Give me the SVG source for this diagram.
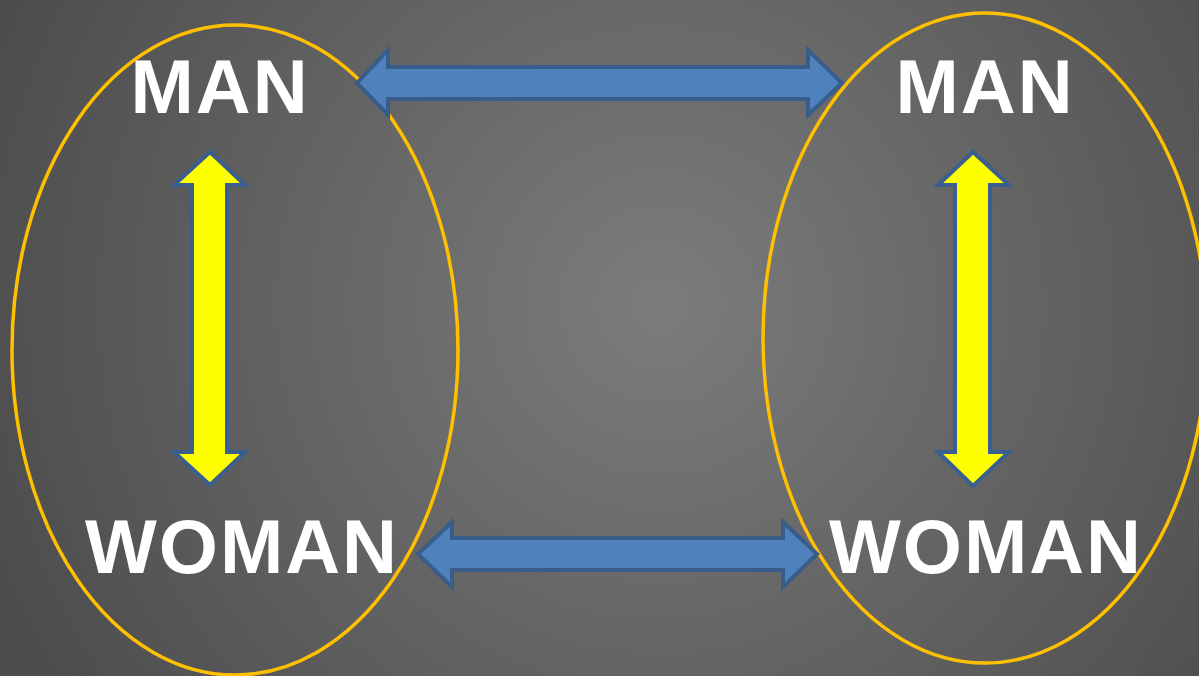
<svg xmlns="http://www.w3.org/2000/svg" width="1199" height="676" viewBox="0 0 1199 676">
<defs>
<radialGradient id="bg" cx="660" cy="305" r="720" gradientUnits="userSpaceOnUse">
<stop offset="0" stop-color="#7c7c7c"/>
<stop offset="1" stop-color="#4c4c4c"/>
</radialGradient>
</defs>
<style>
.ring{fill:none;stroke:#FFC000;stroke-width:3.5}
.lbl{font-family:"Liberation Sans",Arial,sans-serif;font-weight:bold;font-size:76px;fill:#ffffff;text-anchor:middle;letter-spacing:2px}
.blue{fill:#4F81BD;stroke:#385D8A;stroke-width:4;stroke-linejoin:miter}
.yel{fill:#FFFF00;stroke:#3A5F8F;stroke-width:4;stroke-linejoin:miter}
</style>
<rect width="1199" height="676" fill="url(#bg)"/>
<g id="left-group">
<ellipse class="ring" cx="235" cy="350" rx="223" ry="325"/>
</g>
<g id="right-group">
<ellipse class="ring" cx="985" cy="338" rx="222" ry="325"/>
</g>
<g id="man-left"><text class="lbl" x="220" y="113">MAN</text></g>
<g id="woman-left"><text class="lbl" x="242" y="573">WOMAN</text></g>
<g id="man-right"><text class="lbl" x="985" y="113">MAN</text></g>
<g id="woman-right"><text class="lbl" x="986" y="573">WOMAN</text></g>
<g id="connectors">
<polygon class="blue" points="357,83 388,50 388,67 808,67 808,50 842,83 808,115 808,99 388,99 388,115"/>
<polygon class="blue" points="418,554 452,522 452,538 783,538 783,522 817,554 783,587 783,570 452,570 452,587"/>
<polygon class="yel" points="210,152 245,185 227,185 227,452 245,452 210,485 174,452 192,452 192,185 174,185"/>
<polygon class="yel" points="973,152 1009,185 990,185 990,452 1009,452 973,486 938,452 955,452 955,185 938,185"/>
</g>
</svg>
